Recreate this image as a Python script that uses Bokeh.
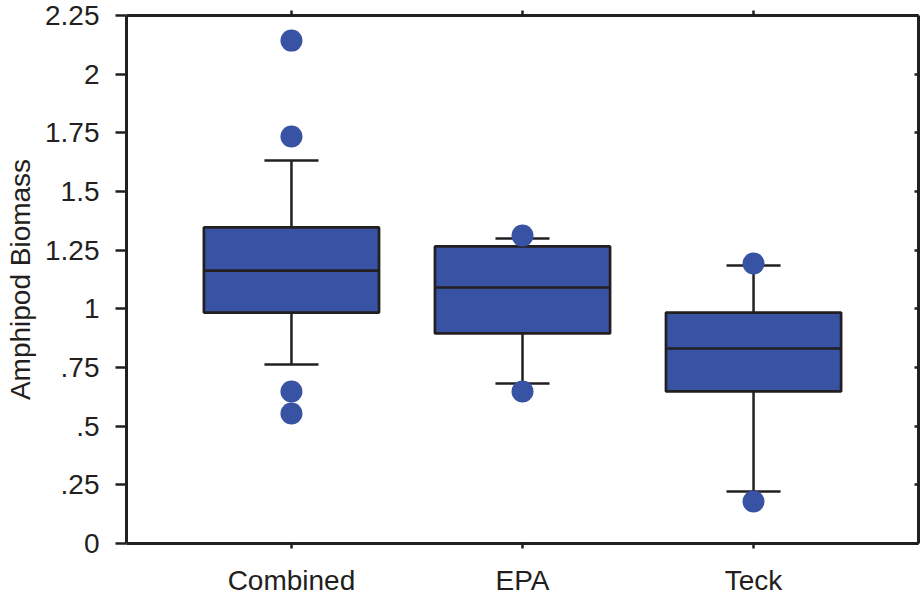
from bokeh.plotting import figure
from bokeh.models import LinearAxis, FixedTicker, Range1d, ColumnDataSource
from bokeh.embed import file_html
from bokeh.resources import INLINE

# ---- data ----
categories = ["Combined", "EPA", "Teck"]
q1 = [0.984, 0.895, 0.648]
median = [1.163, 1.091, 0.831]
q3 = [1.347, 1.266, 0.984]
lower_whisker = [0.763, 0.682, 0.222]
upper_whisker = [1.632, 1.300, 1.185]
outlier_group = ["Combined", "Combined", "Combined", "Combined", "EPA", "EPA", "Teck", "Teck"]
outlier_value = [2.143, 1.734, 0.648, 0.554, 1.312, 0.648, 1.193, 0.179]
y_ticks = [0, 0.25, 0.5, 0.75, 1.0, 1.25, 1.5, 1.75, 2.0, 2.25]
y_tick_labels = ["0", ".25", ".5", ".75", "1", "1.25", "1.5", "1.75", "2", "2.25"]
y_label = "Amphipod Biomass"

# ---- styling ----
FILL = "#3953A4"
INK = "#231F20"
FONT = "Liberation Sans"
BOX_W = 0.758
CAP_W = 0.234

xs = list(range(len(categories)))
src = ColumnDataSource(dict(
    x=xs, q1=q1, q3=q3, med=median, lo=lower_whisker, hi=upper_whisker,
    cl=[x - CAP_W / 2 for x in xs], cr=[x + CAP_W / 2 for x in xs],
    bl=[x - BOX_W / 2 for x in xs], br=[x + BOX_W / 2 for x in xs],
))
out_src = ColumnDataSource(dict(
    x=[categories.index(g) for g in outlier_group], y=outlier_value))

p = figure(frame_width=792, frame_height=528,
           x_range=Range1d(-0.714, 2.714), y_range=Range1d(0, 2.25),
           output_backend="svg", toolbar_location=None,
           x_axis_location=None, y_axis_location=None,
           min_border_left=126, min_border_right=2,
           min_border_top=15, min_border_bottom=52)
p.grid.visible = False
p.outline_line_color = None
p.background_fill_color = "white"
p.border_fill_color = "white"

# whiskers
p.segment(x0="x", y0="q3", x1="x", y1="hi", source=src, line_color=INK, line_width=2.5)
p.segment(x0="x", y0="q1", x1="x", y1="lo", source=src, line_color=INK, line_width=2.5)
p.segment(x0="cl", y0="hi", x1="cr", y1="hi", source=src, line_color=INK, line_width=2.5)
p.segment(x0="cl", y0="lo", x1="cr", y1="lo", source=src, line_color=INK, line_width=2.5)
# boxes
p.quad(left="bl", right="br", bottom="q1", top="q3", source=src,
       fill_color=FILL, line_color=INK, line_width=2.7)
p.segment(x0="bl", y0="med", x1="br", y1="med", source=src, line_color=INK, line_width=2.7)
# outliers
p.scatter(x="x", y="y", source=out_src, size=22, fill_color=FILL, line_color=None)

def style(ax):
    ax.axis_line_color = INK
    ax.axis_line_width = 3
    ax.major_tick_line_color = INK
    ax.major_tick_line_width = 2.5
    ax.minor_tick_line_color = None
    ax.major_label_text_font = FONT
    ax.major_label_text_color = INK
    ax.major_label_text_font_size = "28px"

# left axis
ly = LinearAxis(ticker=FixedTicker(ticks=y_ticks),
                major_label_overrides={t: l for t, l in zip(y_ticks, y_tick_labels)})
style(ly)
ly.major_tick_out = 11
ly.major_tick_in = 0
ly.major_label_standoff = 16
ly.axis_label = y_label
ly.axis_label_text_font = FONT
ly.axis_label_text_font_style = "normal"
ly.axis_label_text_font_size = "28px"
ly.axis_label_text_color = INK
ly.axis_label_standoff = 6
p.add_layout(ly, "left")

# right axis (ticks inward, no labels)
ry = LinearAxis(ticker=FixedTicker(ticks=y_ticks))
style(ry)
ry.major_tick_out = 0
ry.major_tick_in = 4
ry.major_label_text_font_size = "1px"
ry.major_label_text_color = None
ry.major_label_standoff = 0
p.add_layout(ry, "right")

# bottom axis
bx = LinearAxis(ticker=FixedTicker(ticks=xs),
                major_label_overrides={i: c for i, c in enumerate(categories)})
style(bx)
bx.major_tick_out = 5
bx.major_tick_in = 0
bx.major_label_standoff = 16
p.add_layout(bx, "below")

# top axis (ticks outward, no labels)
tx = LinearAxis(ticker=FixedTicker(ticks=xs))
style(tx)
tx.major_tick_out = 5
tx.major_tick_in = 0
tx.major_label_text_font_size = "1px"
tx.major_label_text_color = None
tx.major_label_standoff = 0
p.add_layout(tx, "above")

open("out.html", "w").write(file_html(p, INLINE))
